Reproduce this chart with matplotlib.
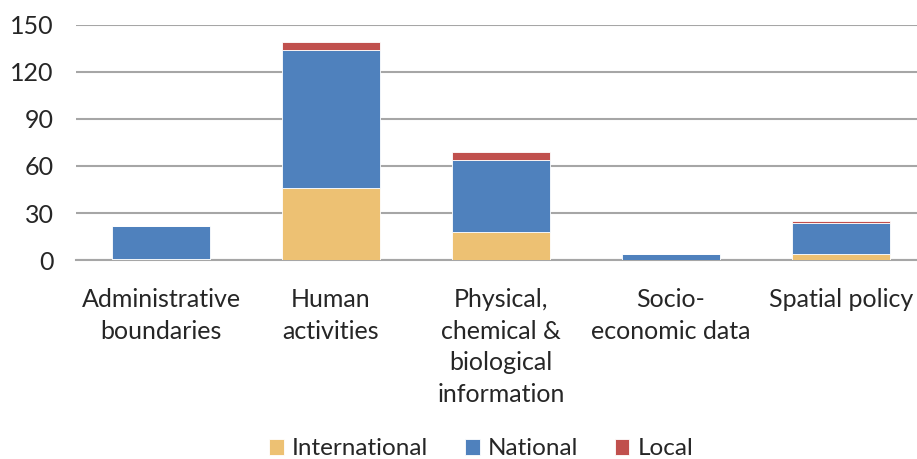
import numpy as np
import matplotlib
matplotlib.use("Agg")
import matplotlib.pyplot as plt

plt.rcParams['font.family'] = ['Lato', 'DejaVu Sans']

categories = ["Administrative\nboundaries", "Human\nactivities",
              "Physical,\nchemical &\nbiological\ninformation",
              "Socio-\neconomic data", "Spatial policy"]
international = [1, 46, 18, 0, 4]
national = [21, 88, 46, 4, 20]
local = [0, 5, 5, 0, 1]

colors = {"International": "#EDC173", "National": "#4F81BD", "Local": "#C0504D"}

fig = plt.figure(figsize=(9.17, 4.59), dpi=100)
ax = fig.add_axes([76 / 917, 1 - 260.3 / 459, 841 / 917, (260.3 - 24.5) / 459])

x = np.arange(len(categories))
w = 0.575
bottom = np.zeros(len(categories))
for name, vals in [("International", international), ("National", national), ("Local", local)]:
    ax.bar(x, vals, w, bottom=bottom, color=colors[name], label=name,
           edgecolor="white", linewidth=0.6, zorder=3)
    bottom += np.array(vals)

ax.set_xlim(-0.5, -0.5 + 841 / 170)
ax.set_ylim(0, 150)
ax.set_yticks([0, 30, 60, 90, 120, 150])
ax.yaxis.grid(True, color="#A6A6A6", linewidth=1.5, zorder=0)
ax.set_axisbelow(True)
for s in ["top", "right", "left"]:
    ax.spines[s].set_visible(False)
ax.spines["bottom"].set_color("#A6A6A6")
ax.spines["bottom"].set_linewidth(1.5)
ax.tick_params(axis="y", length=0, pad=16, labelsize=18, labelcolor="#262626")
ax.tick_params(axis="x", length=0, pad=20, labelsize=18, labelcolor="#262626")
ax.set_xticks(x)
ax.set_xticklabels(categories, linespacing=1.45)

fig.legend(loc="center", bbox_to_anchor=(0.525, 0.022), ncol=3, frameon=False,
           fontsize=17.5, handlelength=0.6, handleheight=0.6, handletextpad=0.35,
           columnspacing=1.5, labelcolor="#262626")

fig.savefig("out.png", dpi=100)
